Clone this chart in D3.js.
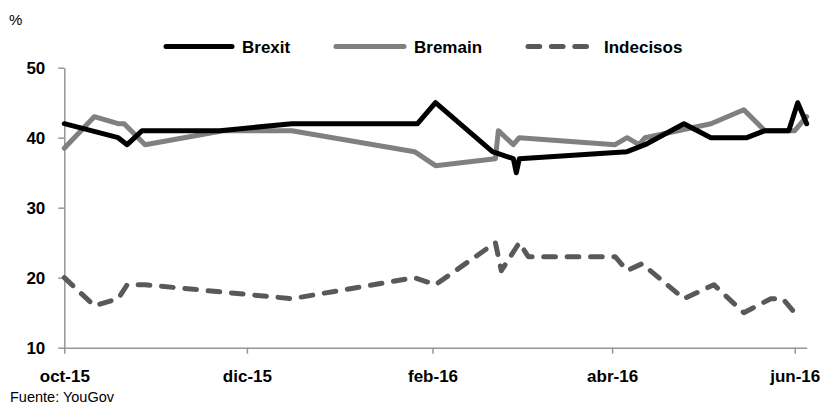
<!DOCTYPE html>
<html>
<head>
<meta charset="utf-8">
<script src="https://cdn.jsdelivr.net/npm/d3@7"></script>
<style>
	body { margin: 0; background: #fff; }
	svg { display: block; font-family: "Liberation Sans", Arial, sans-serif; }
</style>
</head>
<body>
<div id="chart-area"></div>
<script>
// data
const brexitDates = ["2015-10-01", "2015-10-10", "2015-10-19", "2015-10-22", "2015-10-27", "2015-11-22",
	"2015-12-16", "2016-01-27", "2016-02-02", "2016-02-21", "2016-02-28", "2016-02-29", "2016-03-01",
	"2016-04-06", "2016-04-12", "2016-04-25", "2016-05-04", "2016-05-16", "2016-05-22", "2016-05-30",
	"2016-06-02", "2016-06-05"]
const brexitValues = [42, 41, 40, 39, 41, 41, 42, 42, 45, 38, 37, 35, 37, 38, 39, 42, 40, 40, 41, 41, 45, 42]

const bremainDates = ["2015-10-01", "2015-10-11", "2015-10-19", "2015-10-21", "2015-10-28", "2015-11-23",
	"2015-12-16", "2016-01-26", "2016-02-02", "2016-02-22", "2016-02-23", "2016-02-28", "2016-03-01",
	"2016-04-02", "2016-04-06", "2016-04-10", "2016-04-12", "2016-05-04", "2016-05-15", "2016-05-22",
	"2016-06-01", "2016-06-05"]
const bremainValues = [38.5, 43, 42, 42, 39, 41, 41, 38, 36, 37, 41, 39, 40, 39, 40, 39, 40, 42, 44, 41, 41, 43]

const indecisosDates = ["2015-10-01", "2015-10-11", "2015-10-19", "2015-10-22", "2015-10-28", "2015-12-16",
	"2016-01-26", "2016-02-02", "2016-02-22", "2016-02-24", "2016-03-01", "2016-03-04", "2016-04-02",
	"2016-04-06", "2016-04-11", "2016-04-25", "2016-05-05", "2016-05-15", "2016-05-24", "2016-05-28",
	"2016-06-01"]
const indecisosValues = [20, 16, 17, 19, 19, 17, 20, 19, 25, 21, 25, 23, 23, 21, 22, 17, 19, 15, 17, 17, 15]

const seriesNames = ["Brexit", "Bremain", "Indecisos"]
const xTickDates = ["2015-10-01", "2015-12-01", "2016-02-01", "2016-04-01", "2016-06-01"]
const xTickLabels = ["oct-15", "dic-15", "feb-16", "abr-16", "jun-16"]
const yTicks = [10, 20, 30, 40, 50]
const xDomain = ["2015-10-01", "2016-06-05"]

const WIDTH = 823
const HEIGHT = 408
const PLOT = { LEFT: 64.3, RIGHT: 806.7, TOP: 67.7, BOTTOM: 347.7 }
const AXIS_COLOR = "#969696"
const LINE_W = 5

const parseTime = d3.timeParse("%Y-%m-%d")

const svg = d3.select("#chart-area").append("svg")
	.attr("width", WIDTH)
	.attr("height", HEIGHT)

// scales
const x = d3.scaleTime()
	.domain(xDomain.map(parseTime))
	.range([PLOT.LEFT, PLOT.RIGHT])
const y = d3.scaleLinear()
	.domain([10, 50])
	.range([PLOT.BOTTOM, PLOT.TOP])

// axes
const xAxisCall = d3.axisBottom(x)
	.tickValues(xTickDates.map(parseTime))
	.tickFormat((d, i) => xTickLabels[i])
	.tickSizeInner(6)
	.tickSizeOuter(0)
	.tickPadding(16)
const yAxisCall = d3.axisLeft(y)
	.tickValues(yTicks)
	.tickSizeInner(6)
	.tickSizeOuter(0)
	.tickPadding(13)

const xAxis = svg.append("g")
	.attr("class", "x axis")
	.attr("transform", `translate(0, ${PLOT.BOTTOM})`)
	.call(xAxisCall)
const yAxis = svg.append("g")
	.attr("class", "y axis")
	.attr("transform", `translate(${PLOT.LEFT}, 0)`)
	.call(yAxisCall)

svg.selectAll(".axis path, .axis line")
	.attr("stroke", AXIS_COLOR)
	.attr("stroke-width", 1.5)
svg.selectAll(".axis text")
	.attr("fill", "#000")
	.attr("font-size", "17px")
	.attr("font-weight", "bold")
	.attr("font-family", "'Liberation Sans', Arial, sans-serif")

// lines
const makeData = (dates, values) => dates.map((d, i) => ({ date: parseTime(d), value: values[i] }))
const series = [
	{ name: seriesNames[0], data: makeData(brexitDates, brexitValues), color: "#000000", dash: null },
	{ name: seriesNames[1], data: makeData(bremainDates, bremainValues), color: "#808080", dash: null },
	{ name: seriesNames[2], data: makeData(indecisosDates, indecisosValues), color: "#595959", dash: "11.7 11.7" }
]

const line = d3.line()
	.x(d => x(d.date))
	.y(d => y(d.value))

// draw dashed one first, then grey, then black on top
;[2, 1, 0].forEach(k => {
	const s = series[k]
	svg.append("path")
		.attr("class", "line")
		.attr("d", line(s.data))
		.attr("fill", "none")
		.attr("stroke", s.color)
		.attr("stroke-width", LINE_W)
		.attr("stroke-linejoin", "round")
		.attr("stroke-linecap", "round")
		.attr("stroke-dasharray", s.dash)
})

// legend
const legendX = [166, 336, 528]
const legendLen = [66, 68, 59]
const legendTextX = [242, 414, 604]
const legend = svg.append("g").attr("class", "legend")
series.forEach((s, i) => {
	legend.append("line")
		.attr("x1", legendX[i])
		.attr("x2", legendX[i] + legendLen[i])
		.attr("y1", 46.5)
		.attr("y2", 46.5)
		.attr("stroke", s.color)
		.attr("stroke-width", LINE_W)
		.attr("stroke-linecap", "round")
		.attr("stroke-dasharray", s.dash)
	legend.append("text")
		.attr("x", legendTextX[i])
		.attr("y", 53)
		.attr("font-size", "17px")
		.attr("font-weight", "bold")
		.text(s.name)
})

// unit and source
svg.append("text")
	.attr("x", 9)
	.attr("y", 25)
	.attr("font-size", "15px")
	.text("%")
svg.append("text")
	.attr("x", 10)
	.attr("y", 402)
	.attr("font-size", "14.5px")
	.text("Fuente: YouGov")
</script>
</body>
</html>
